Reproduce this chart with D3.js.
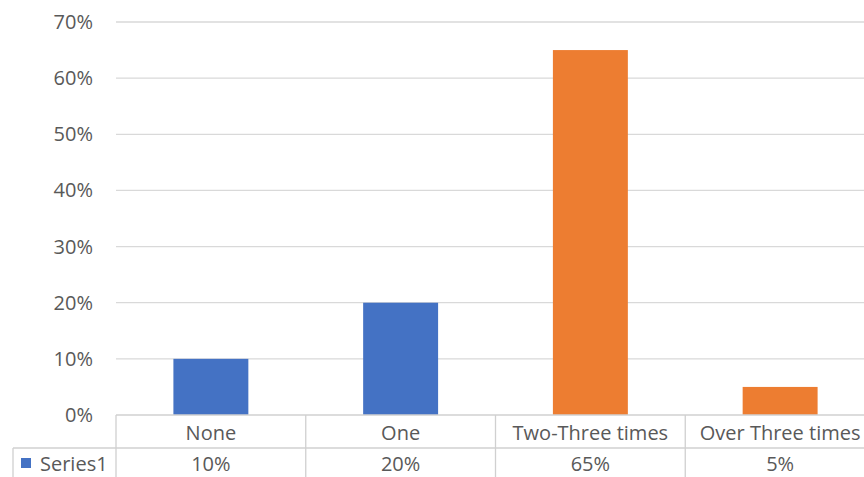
<!DOCTYPE html>
<html>
<head>
<meta charset="utf-8">
<script src="https://cdn.jsdelivr.net/npm/d3@7"></script>
<style>
body { margin: 0; background: #fff; }
svg text { font-family: "Open Sans", sans-serif; fill: #595959; }
</style>
</head>
<body>
<div id="the_chart"></div>
<script>
var categories = ["None", "One", "Two-Three times", "Over Three times"];
var values = [0.10, 0.20, 0.65, 0.05];
var barColors = ["#4472c4", "#4472c4", "#ed7d31", "#ed7d31"];
var seriesName = "Series1";
var yTicks = [0, 0.1, 0.2, 0.3, 0.4, 0.5, 0.6, 0.7];

var w = 864, h = 477;
var padLeft = 116, padRight = 875, padTop = 22, padBottom = 415;
var rowH = 33;
var fs = 20;

var svg = d3.select("#the_chart").append("svg")
    .attr("width", w)
    .attr("height", h);

var yscale = d3.scaleLinear()
    .domain([0, 0.7])
    .range([padBottom, padTop]);
var xscale = d3.scaleBand()
    .domain(categories)
    .range([padLeft, padRight])
    .padding(0);

// gridlines
svg.selectAll("line.grid")
    .data(yTicks.slice(1))
    .enter().append("line")
    .attr("class", "grid")
    .attr("x1", padLeft)
    .attr("x2", w)
    .attr("y1", function(d) { return yscale(d); })
    .attr("y2", function(d) { return yscale(d); })
    .attr("stroke", "#d9d9d9")
    .attr("stroke-width", 1.3);

// y labels
svg.selectAll("text.ylab")
    .data(yTicks)
    .enter().append("text")
    .attr("class", "ylab")
    .attr("x", 93)
    .attr("y", function(d) { return yscale(d); })
    .attr("dy", "0.35em")
    .attr("text-anchor", "end")
    .attr("font-size", fs)
    .text(d3.format(".0%"));

// bars
var barW = xscale.bandwidth() * 0.395;
svg.selectAll("rect.bar")
    .data(values)
    .enter().append("rect")
    .attr("class", "bar")
    .attr("x", function(d, i) { return xscale(categories[i]) + xscale.bandwidth() / 2 - barW / 2; })
    .attr("width", barW)
    .attr("y", function(d) { return yscale(d); })
    .attr("height", function(d) { return padBottom - yscale(d); })
    .attr("fill", function(d, i) { return barColors[i]; });

// data table
var tableColor = "#d0d0d0";
var row2 = padBottom + rowH;
var tbl = svg.append("g");
tbl.append("line")
    .attr("x1", padLeft).attr("x2", w)
    .attr("y1", padBottom).attr("y2", padBottom)
    .attr("stroke", tableColor).attr("stroke-width", 1.3);
tbl.append("line")
    .attr("x1", 13).attr("x2", w)
    .attr("y1", row2).attr("y2", row2)
    .attr("stroke", tableColor).attr("stroke-width", 1.3);
tbl.append("line")
    .attr("x1", 13).attr("x2", 13)
    .attr("y1", row2).attr("y2", h)
    .attr("stroke", tableColor).attr("stroke-width", 1.3);
tbl.selectAll("line.col")
    .data(categories)
    .enter().append("line")
    .attr("class", "col")
    .attr("x1", function(d) { return xscale(d); })
    .attr("x2", function(d) { return xscale(d); })
    .attr("y1", padBottom)
    .attr("y2", h)
    .attr("stroke", tableColor).attr("stroke-width", 1.3);

tbl.selectAll("text.cat")
    .data(categories)
    .enter().append("text")
    .attr("class", "cat")
    .attr("x", function(d) { return xscale(d) + xscale.bandwidth() / 2; })
    .attr("y", padBottom + rowH / 2 + 1)
    .attr("dy", "0.35em")
    .attr("text-anchor", "middle")
    .attr("font-size", fs)
    .text(function(d) { return d; });

tbl.selectAll("text.val")
    .data(values)
    .enter().append("text")
    .attr("class", "val")
    .attr("x", function(d, i) { return xscale(categories[i]) + xscale.bandwidth() / 2; })
    .attr("y", row2 + 16)
    .attr("dy", "0.35em")
    .attr("text-anchor", "middle")
    .attr("font-size", fs)
    .text(d3.format(".0%"));

// legend key
tbl.append("rect")
    .attr("x", 21).attr("y", row2 + 10)
    .attr("width", 10).attr("height", 10)
    .attr("fill", barColors[0]);
tbl.append("text")
    .attr("x", 40)
    .attr("y", row2 + 16)
    .attr("dy", "0.35em")
    .attr("font-size", fs)
    .text(seriesName);
</script>
</body>
</html>
